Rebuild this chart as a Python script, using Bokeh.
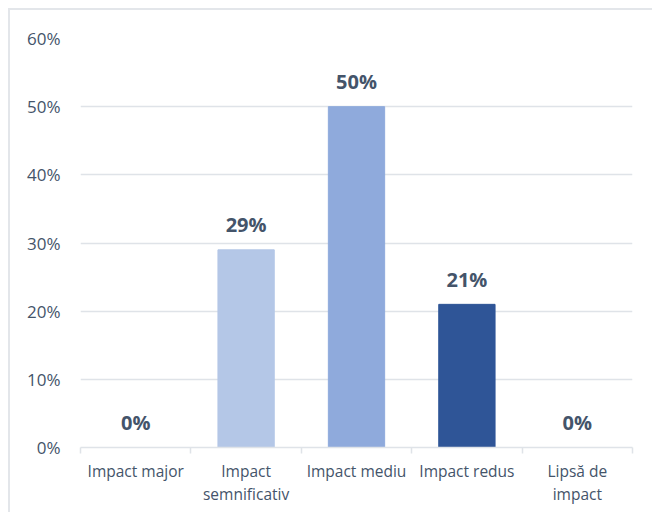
from bokeh.plotting import figure
from bokeh.models import Range1d, FixedTicker, PrintfTickFormatter, ColumnDataSource
from bokeh.core.properties import value
from bokeh.embed import file_html
from bokeh.resources import INLINE

categories = ["Impact major", "Impact semnificativ", "Impact mediu", "Impact redus", "Lipsă de impact"]
wrapped = ["Impact major", "Impact\nsemnificativ", "Impact mediu", "Impact redus", "Lipsă de\nimpact"]
values = [0, 29, 50, 21, 0]
colors = ["#b4c7e7", "#b4c7e7", "#8faadc", "#2f5597", "#2f5597"]
y_ticks = [0, 10, 20, 30, 40, 50, 60]

FONT = "Open Sans"
TXT = "#44546a"
GRID = "#dfe3e8"

xs = [i + 0.5 for i in range(len(categories))]
src = ColumnDataSource(dict(x=xs, top=values, color=colors,
                            label=[f"{v}%" for v in values], cat=categories))

p = figure(width=644, height=504, x_range=Range1d(0, len(categories)), y_range=Range1d(0, 60),
           output_backend="svg", toolbar_location=None,
           min_border_left=70, min_border_right=22, min_border_top=28, min_border_bottom=67,
           styles={"margin-left": "8px", "margin-top": "8px",
                   "border-left": "2px solid #e3e6ea", "border-top": "2px solid #e3e6ea"})
p.outline_line_color = None
p.background_fill_color = "white"
p.border_fill_color = "white"

p.vbar(x="x", top="top", width=0.51, color="color", source=src)
p.text(x="x", y="top", text="label", source=src, text_font=value(FONT), text_font_style="bold",
       text_font_size="20px", text_color=TXT, text_align="center", text_baseline="alphabetic",
       y_offset=-25)

# y axis
p.yaxis.ticker = FixedTicker(ticks=y_ticks)
p.yaxis.formatter = PrintfTickFormatter(format="%d%%")
p.yaxis.axis_line_color = None
p.yaxis.major_tick_line_color = None
p.yaxis.minor_tick_line_color = None
p.yaxis.major_label_standoff = 14
p.yaxis.major_label_text_font = FONT
p.yaxis.major_label_text_font_size = "17px"
p.yaxis.major_label_text_color = TXT

# x axis: labels at centers, ticks at boundaries via minor ticks
p.xaxis.ticker = FixedTicker(ticks=xs, minor_ticks=list(range(len(categories) + 1)))
p.xaxis.major_label_overrides = {x: w for x, w in zip(xs, wrapped)}
p.xaxis.major_tick_line_color = None
p.xaxis.minor_tick_in = 0
p.xaxis.minor_tick_out = 6
p.xaxis.minor_tick_line_color = GRID
p.xaxis.minor_tick_line_width = 1.5
p.xaxis.axis_line_color = GRID
p.xaxis.axis_line_width = 1.5
p.xaxis.major_label_standoff = 6
p.xaxis.major_label_text_font = FONT
p.xaxis.major_label_text_font_size = "15.5px"
p.xaxis.major_label_text_color = TXT
p.xaxis.major_label_text_line_height = 1.05

p.xgrid.grid_line_color = None
p.ygrid.grid_line_color = GRID
p.ygrid.grid_line_width = 1.5

open("out.html", "w").write(file_html(p, INLINE))
